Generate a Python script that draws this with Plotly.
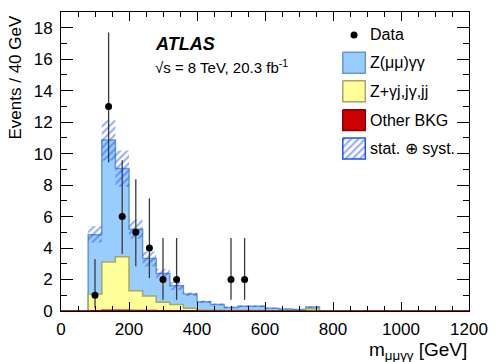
import plotly.graph_objects as go

# ---------------- data ----------------
bin_edges = list(range(0, 1240, 40))            # 0..1200, 30 bins of 40 GeV
# stacked background components per bin (30 bins, 0-1200 GeV)
z_mumu_gg = [0, 0,
             3.77, 7.75, 5.61, 3.91, 2.38, 1.83, 1.18, 0.91, 0.54, 0.38,
             0.19, 0.27, 0.27, 0.15, 0.10, 0.08, 0.10,
             0, 0, 0, 0, 0, 0, 0, 0, 0, 0, 0, 0]
z_gj_jg_jj = [0, 0,
              1.06, 3.07, 3.39, 1.26, 0.92, 0.53, 0.40, 0.15, 0.05, 0.04,
              0.03, 0.03, 0.03, 0.02, 0.02, 0.02, 0.15,
              0, 0, 0, 0, 0, 0, 0, 0, 0, 0, 0, 0]
other_bkg = [0, 0,
             0.02, 0.05, 0.05, 0.03, 0.03, 0.02, 0.02, 0.02, 0, 0,
             0, 0, 0, 0, 0, 0, 0,
             0, 0, 0, 0, 0, 0, 0, 0, 0, 0, 0, 0]
unc_up = [0, 0,
          0.55, 1.25, 1.15, 0.60, 0.45, 0.30, 0.25, 0.10, 0.08, 0.06,
          0.06, 0.06, 0.06, 0.04, 0.03, 0.03, 0.05,
          0, 0, 0, 0, 0, 0, 0, 0, 0, 0, 0, 0]
unc_down = [0, 0,
            0.50, 1.30, 1.15, 0.60, 0.50, 0.30, 0.27, 0.12, 0.08, 0.06,
            0.06, 0.06, 0.06, 0.04, 0.03, 0.03, 0.05,
            0, 0, 0, 0, 0, 0, 0, 0, 0, 0, 0, 0]

data_x = [100, 140, 180, 220, 260, 300, 340, 500, 540]
data_y = [1, 13, 6, 5, 4, 2, 2, 2, 2]
data_err_up = [2.30, 4.70, 3.58, 3.38, 3.16, 2.64, 2.64, 2.64, 2.64]
data_err_dn = [0.83, 3.56, 2.38, 2.16, 1.91, 1.29, 1.29, 1.29, 1.29]

x_ticks = [0, 200, 400, 600, 800, 1000, 1200]
y_ticks = [0, 2, 4, 6, 8, 10, 12, 14, 16, 18]

legend_labels = ["Data", "Z(μμ)γγ", "Z+γj,jγ,jj", "Other BKG", "stat. ⊕ syst."]

# ---------------- styles ----------------
FONT = "Liberation Sans, Arial, Helvetica, sans-serif"
C_BLUE_FILL = "#99ccff"
C_BLUE_LINE = "#6699cc"
C_YEL_FILL = "#ffff99"
C_YEL_LINE = "#a6a66a"
C_RED_FILL = "#cc0000"
C_RED_LINE = "#8b0000"
C_HATCH = "#1f4fff"
HATCH = dict(shape="/", fgcolor=C_HATCH, size=5, solidity=0.4)


def step_xy(values):
    xs = [bin_edges[0]] + bin_edges[:-1] + [bin_edges[-1], bin_edges[-1]]
    ys = [0] + list(values) + [values[-1], 0]
    return xs, ys


red_stack = list(other_bkg)
yel_stack = [a + b for a, b in zip(red_stack, z_gj_jg_jj)]
tot_stack = [a + b for a, b in zip(yel_stack, z_mumu_gg)]

fig = go.Figure()

for vals, fillc, linec in [(tot_stack, C_BLUE_FILL, C_BLUE_LINE),
                           (yel_stack, C_YEL_FILL, C_YEL_LINE),
                           (red_stack, C_RED_FILL, C_RED_LINE)]:
    xs, ys = step_xy(vals)
    fig.add_trace(go.Scatter(x=xs, y=ys, mode="lines", line=dict(shape="hv", color=linec, width=1.5),
                             fill="tozeroy", fillcolor=fillc, hoverinfo="skip", showlegend=False))

# uncertainty band (hatched)
lo = [t - d for t, d in zip(tot_stack, unc_down)]
hi = [t + u for t, u in zip(tot_stack, unc_up)]
xs_lo = bin_edges[:-1] + [bin_edges[-1]]
fig.add_trace(go.Scatter(x=xs_lo, y=lo + [lo[-1]], mode="lines", line=dict(shape="hv", width=0, color="rgba(0,0,0,0)"),
                         hoverinfo="skip", showlegend=False))
fig.add_trace(go.Scatter(x=xs_lo, y=hi + [hi[-1]], mode="lines", line=dict(shape="hv", width=0, color="rgba(0,0,0,0)"),
                         fill="tonexty", fillcolor="rgba(0,0,0,0)",
                         fillpattern=dict(HATCH, bgcolor="rgba(0,0,0,0)"),
                         hoverinfo="skip", showlegend=False))

# data
fig.add_trace(go.Scatter(x=data_x, y=data_y, mode="markers",
                         marker=dict(color="black", size=7),
                         error_y=dict(type="data", symmetric=False, array=data_err_up, arrayminus=data_err_dn,
                                      color="#3a3a3a", thickness=1.3, width=0),
                         showlegend=False))

# ---------------- legend (overlay axes in pixel-like units) ----------------
leg_x0, leg_x1 = 349, 372
leg_rows = [34, 62, 90.5, 119.5, 148]
box_h = 10.5
fig.add_trace(go.Scatter(x=[360.5], y=[leg_rows[0]], mode="markers", marker=dict(color="black", size=7),
                         xaxis="x2", yaxis="y2", showlegend=False, hoverinfo="skip"))
for row, fillc, linec in [(leg_rows[1], C_BLUE_FILL, C_BLUE_LINE),
                          (leg_rows[2], C_YEL_FILL, C_YEL_LINE),
                          (leg_rows[3], C_RED_FILL, C_RED_LINE)]:
    fig.add_trace(go.Scatter(x=[leg_x0, leg_x1, leg_x1, leg_x0, leg_x0],
                             y=[row - box_h, row - box_h, row + box_h, row + box_h, row - box_h],
                             mode="lines", fill="toself", fillcolor=fillc, line=dict(color=linec, width=1.5),
                             xaxis="x2", yaxis="y2", showlegend=False, hoverinfo="skip"))
row = leg_rows[4]
fig.add_trace(go.Scatter(x=[leg_x0, leg_x1, leg_x1, leg_x0, leg_x0],
                         y=[row - box_h, row - box_h, row + box_h, row + box_h, row - box_h],
                         mode="lines", fill="toself", fillcolor="rgba(0,0,0,0)",
                         fillpattern=dict(HATCH, bgcolor="white"),
                         line=dict(color=C_HATCH, width=1.5),
                         xaxis="x2", yaxis="y2", showlegend=False, hoverinfo="skip"))

annotations = []
for lab, r in zip(legend_labels, leg_rows):
    annotations.append(dict(x=375, y=r, xref="x2", yref="y2", text=lab, showarrow=False,
                            xanchor="left", yanchor="middle", font=dict(family=FONT, size=16, color="black")))

annotations += [
    dict(x=155, y=43, xref="x2", yref="y2", text="<b><i>ATLAS</i></b>", showarrow=False,
         xanchor="left", yanchor="middle", font=dict(family=FONT, size=18, color="black")),
    dict(x=155, y=66, xref="x2", yref="y2", text="√s = 8 TeV, 20.3 fb<sup>-1</sup>", showarrow=False,
         xanchor="left", yanchor="middle", font=dict(family=FONT, size=15, color="black")),
    dict(x=1, y=0, xref="paper", yref="paper", text="m<sub>μμγγ</sub> [GeV]", showarrow=False,
         xanchor="right", yanchor="top", yshift=-26, font=dict(family=FONT, size=19, color="black")),
    dict(x=0, y=1, xref="paper", yref="paper", text="Events / 40 GeV", showarrow=False, textangle=-90,
         xanchor="right", yanchor="top", xshift=-35, yshift=-2, font=dict(family=FONT, size=17, color="black")),
]

fig.update_layout(
    width=499, height=362,
    margin=dict(l=61, r=21, t=11, b=51, pad=0),
    paper_bgcolor="white", plot_bgcolor="white",
    font=dict(family=FONT, size=17, color="black"),
    showlegend=False,
    annotations=annotations,
    xaxis=dict(range=[0, 1200], tickvals=x_ticks, ticks="inside", ticklen=9, tickcolor="black", tickwidth=1,
               showline=True, linecolor="black", linewidth=1, mirror="allticks", showgrid=False, zeroline=False,
               minor=dict(dtick=50, tick0=0, ticks="inside", ticklen=5, tickcolor="black", showgrid=False),
               tickfont=dict(family=FONT, size=17), ticklabelstandoff=3),
    yaxis=dict(range=[0, 19], tickvals=y_ticks, ticks="inside", ticklen=12, tickcolor="black", tickwidth=1,
               showline=True, linecolor="black", linewidth=1, mirror="allticks", showgrid=False, zeroline=False,
               minor=dict(dtick=1, tick0=0, ticks="inside", ticklen=6, tickcolor="black", showgrid=False),
               tickfont=dict(family=FONT, size=17), ticklabelstandoff=4),
    xaxis2=dict(range=[61, 478], overlaying="x", visible=False, fixedrange=True),
    yaxis2=dict(range=[311, 11], overlaying="y", visible=False, fixedrange=True),
)

fig.write_html("out.html")
